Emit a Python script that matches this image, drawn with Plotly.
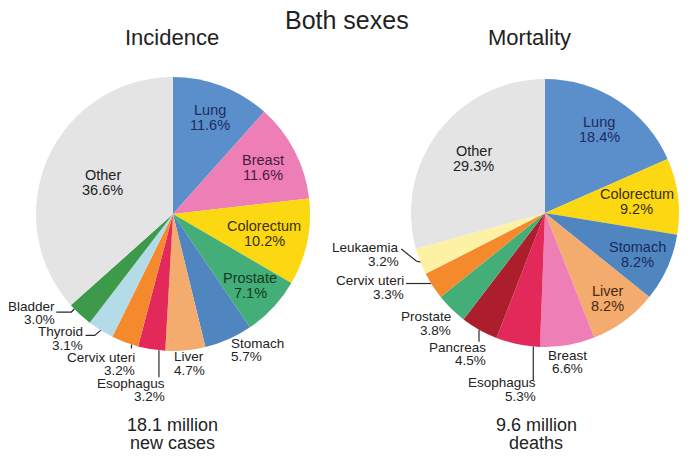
import numpy as np
import plotly.graph_objects as go

# --- data ---
inc_labels = ["Lung", "Breast", "Colorectum", "Prostate", "Stomach", "Liver",
              "Esophagus", "Cervix uteri", "Thyroid", "Bladder", "Other"]
inc_values = [11.6, 11.6, 10.2, 7.1, 5.7, 4.7, 3.2, 3.2, 3.1, 3.0, 36.6]

mort_labels = ["Lung", "Colorectum", "Stomach", "Liver", "Breast", "Esophagus",
               "Pancreas", "Prostate", "Cervix uteri", "Leukaemia", "Other"]
mort_values = [18.4, 9.2, 8.2, 8.2, 6.6, 5.3, 4.5, 3.8, 3.3, 3.2, 29.3]

totals = ["18.1 million", "9.6 million"]
total_units = ["new cases", "deaths"]

# --- styling ---
W, H = 692, 458
FONT = "Liberation Sans, Arial, sans-serif"
TXT = "#222222"

colors = {
    "Lung": "#5b8fcc", "Breast": "#ee7fb6", "Colorectum": "#fcd812",
    "Prostate": "#43ae78", "Stomach": "#4f86c0", "Liver": "#f3ab6e",
    "Esophagus": "#e2295a", "Cervix uteri": "#f58a2c", "Thyroid": "#b4dbe8",
    "Bladder": "#3d9a4a", "Pancreas": "#ad1e2c", "Leukaemia": "#fdf1a4",
    "Other": "#e4e4e4",
}
inside_text = {
    "Lung": "#1c2c5c", "Breast": "#4a1842", "Colorectum": "#3a300c",
    "Prostate": "#123a22", "Stomach": "#1a2a5c", "Liver": "#4a2a10",
    "Other": "#222222",
}

# pie geometry in pixels: centre x, centre y, radius
pies = {
    "inc": (173, 214, 137),
    "mort": (545, 213, 134),
}

# inside labels: radius fraction
inside_pos = {
    "inc": {"Lung": 0.75, "Breast": 0.74, "Colorectum": 0.68, "Prostate": 0.77, "Other": 0.56},
    "mort": {"Lung": 0.74, "Colorectum": 0.69, "Stomach": 0.76, "Liver": 0.79, "Other": 0.67},
}
# outside labels: where on the slice rim (fraction of slice), text offset, anchor, leader line
outside_pos = {
    "inc": {
        "Stomach": dict(frac=0.5, dx=0, dy=4, anchor="left", line=None),
        "Liver": dict(frac=0.5, dx=-13.5, dy=6.5, anchor="left", line=None),
        "Esophagus": dict(frac=0.23, dx=8, dy=33, anchor="right", line=[(0, 0), (0, 27)]),
        "Cervix uteri": dict(frac=0.25, dx=5.5, dy=12.5, anchor="right", line=[(0, 0), (0, 4)]),
        "Thyroid": dict(frac=0.5, dx=-15.5, dy=1.5, anchor="right", line=[(0, 0), (-6, 5), (-15, 5)]),
        "Bladder": dict(frac=0.8, dx=-17.5, dy=-3, anchor="right", line=[(0, 0), (-3, 3), (-18, 3)]),
    },
    "mort": {
        "Breast": dict(frac=0.5, dx=0, dy=10, anchor="center", line=None),
        "Esophagus": dict(frac=0.15, dx=5, dy=36.5, anchor="right", line=[(0, 0), (0, 34)]),
        "Pancreas": dict(frac=0.51, dx=9, dy=17.5, anchor="right", line=[(0, 0), (0, 12)]),
        "Prostate": dict(frac=0.5, dx=1.5, dy=8, anchor="right", line=None),
        "Cervix uteri": dict(frac=0.6, dx=-25, dy=-3, anchor="right", line=[(0, 0), (-25, 0)]),
        "Leukaemia": dict(frac=0.48, dx=-19, dy=-14.5, anchor="right", line=[(0, 0), (-4, -1), (-19, -13)]),
    },
}


def px(x):
    return x / W


def py(y):
    return 1 - y / H


def slice_angles(values):
    edges = np.concatenate([[0], np.cumsum(values)]) * 360 / sum(values)
    return edges[:-1], edges[1:]


def polar(cx, cy, r, ang):
    a = np.radians(ang)
    return cx + r * np.sin(a), cy - r * np.cos(a)


fig = go.Figure()
annotations = []
shapes = []


def add_text(x, y, text, size, color=TXT, anchor="center"):
    annotations.append(dict(
        x=px(x), y=py(y), xref="paper", yref="paper", text=text, showarrow=False,
        xanchor=anchor, yanchor="middle", align=anchor,
        font=dict(family=FONT, size=size, color=color)))


def add_pie(key, labels, values):
    cx, cy, r = pies[key]
    fig.add_trace(go.Pie(
        labels=labels, values=values, sort=False, direction="clockwise", rotation=0,
        marker=dict(colors=[colors[l] for l in labels], line=dict(width=0)),
        textinfo="none", showlegend=False,
        domain=dict(x=[px(cx - r), px(cx + r)], y=[py(cy + r), py(cy - r)]),
    ))
    starts, ends = slice_angles(values)
    for lab, v, a0, a1 in zip(labels, values, starts, ends):
        pct = f"{v:.1f}%"
        if lab in inside_pos[key]:
            x, y = polar(cx, cy, r * inside_pos[key][lab], (a0 + a1) / 2)
            add_text(x, y - 7.5, lab, 14.5, inside_text[lab])
            add_text(x, y + 7.5, pct, 14.5, inside_text[lab])
        else:
            o = outside_pos[key][lab]
            ax, ay = polar(cx, cy, r, a0 + o["frac"] * (a1 - a0))
            add_text(ax + o["dx"], ay + o["dy"], lab, 13.5, TXT, o["anchor"])
            add_text(ax + o["dx"], ay + o["dy"] + 13.5, pct, 13.5, TXT, o["anchor"])
            if o["line"]:
                path = " ".join(("M" if i == 0 else "L") + f" {px(ax + lx):.5f} {py(ay + ly):.5f}"
                                for i, (lx, ly) in enumerate(o["line"]))
                shapes.append(dict(type="path", path=path, xref="paper", yref="paper",
                                   line=dict(color="#2a2a2a", width=1.2)))


add_pie("inc", inc_labels, inc_values)
add_pie("mort", mort_labels, mort_values)

# titles
add_text(347, 20, "Both sexes", 25)
add_text(172, 37, "Incidence", 22)
add_text(529, 37, "Mortality", 22)

# totals under each pie
for cxp, big, unit in zip([172, 536], totals, total_units):
    add_text(cxp, 425, big, 18)
    add_text(cxp, 443, unit, 18)

fig.update_layout(
    width=W, height=H,
    margin=dict(l=0, r=0, t=0, b=0),
    paper_bgcolor="white", plot_bgcolor="white",
    annotations=annotations, shapes=shapes,
)

# page body has a default 8px margin; drop it so the figure fills the window
fig.write_html("out.html", config={"displayModeBar": False},
               post_script=["document.body.style.margin='0px';"])
